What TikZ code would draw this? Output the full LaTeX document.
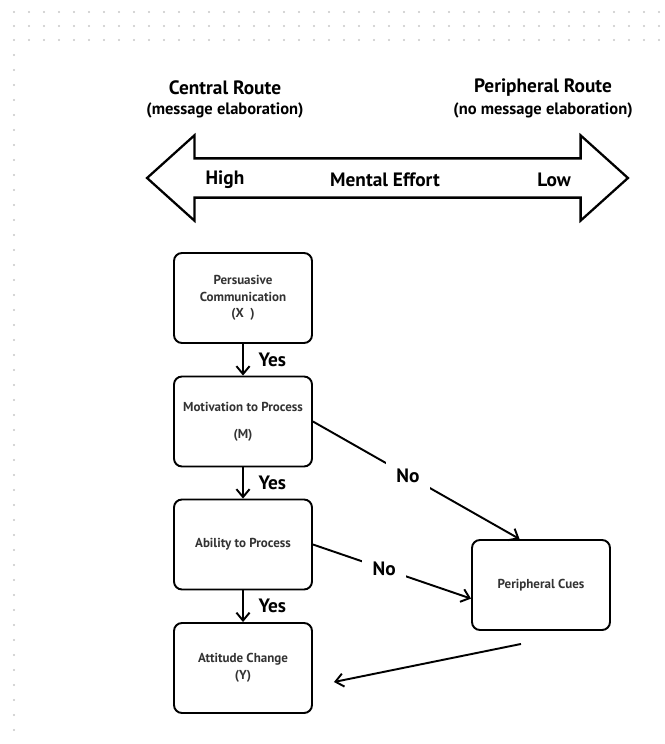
\documentclass[tikz,border=0pt]{standalone}
\usepackage{fontspec}
\setmainfont{PT Sans}
\usetikzlibrary{positioning,calc,shapes.arrows,arrows.meta}

\begin{document}
\begin{tikzpicture}[x=0.02cm, y=-0.02cm,
    box/.style={draw = black, line width = 1.1pt,
        rounded corners = 4.5pt,
        minimum width = 2.76cm,
        minimum height = 1.8cm,
        text = black!80,
        align = center,
        font = \bfseries\fontsize{7.4}{9.5}\selectfont},
    lbl/.style={text = black, font = \bfseries\fontsize{11}{13}\selectfont},
    sublbl/.style={text = black, font = \bfseries\fontsize{9.4}{11}\selectfont},
    flow/.style={-{Straight Barb[length=4.5pt, width=7.5pt]}, line width = 1.1pt},
    griddot/.style={fill = black!22}]

        \useasboundingbox (0,0) rectangle (665,744);

        %dotted background
        \foreach \y in {12,26,40}
            \foreach \x in {14,29,...,660}
                \fill[griddot] (\x,\y) circle (0.7pt);
        \foreach \y in {55,70,...,740}
            \fill[griddot] (14,\y) circle (0.7pt);

        %routes
        \node[lbl] (central) at (225,88) {Central Route};
        \node[sublbl] (centralsub) at (225,110) {(message elaboration)};
        \node[lbl] (periph) at (543,88) {Peripheral Route};
        \node[sublbl] (periphsub) at (543,110) {(no message elaboration)};

        %mental effort arrow
        \node[double arrow, draw = black, line width = 1.3pt,
            minimum height = 9.62cm,
            minimum width = 1.66cm,
            double arrow head extend = 0.46cm,
            double arrow tip angle = 84,
            inner sep = 0.37cm] (effort) at (387.5,178) {};
        \node[lbl] (high) at (225,180) {High};
        \node[lbl] (effortlbl) at (385,180) {Mental Effort};
        \node[lbl] (low) at (554,180) {Low};

        %central chain
        \node[box] (comm) at (243,298) {Persuasive\\Communication\\(X\ \ )};
        \node[box] (motiv) at (243,421.5) {Motivation to Process\\[6pt](M)};
        \node[box] (ability) at (243,544.5) {Ability to Process};
        \node[box] (attitude) at (243,668) {Attitude Change\\(Y)};

        %peripheral
        \node[box] (cues) at (541,585) {Peripheral Cues};

        \coordinate (cuesout) at ($(cues.south) + (-20,13)$);
        \coordinate (attin) at ($(attitude.east) + (21,14)$);

        \path[flow]
            (comm) edge node [lbl, right = 5pt] {Yes} (motiv)
            (motiv) edge node [lbl, right = 5pt] {Yes} (ability)
            (ability) edge node [lbl, right = 5pt] {Yes} (attitude)

            %no branches
            (motiv.east) edge node [lbl, pos = 0.46, fill = white, inner sep = 6pt] {No} (cues.115)
            (ability.east) edge node [lbl, pos = 0.45, fill = white, inner sep = 6pt] {No} (cues.191)

            (cuesout) edge (attin)
            ;

\end{tikzpicture}
\end{document}
